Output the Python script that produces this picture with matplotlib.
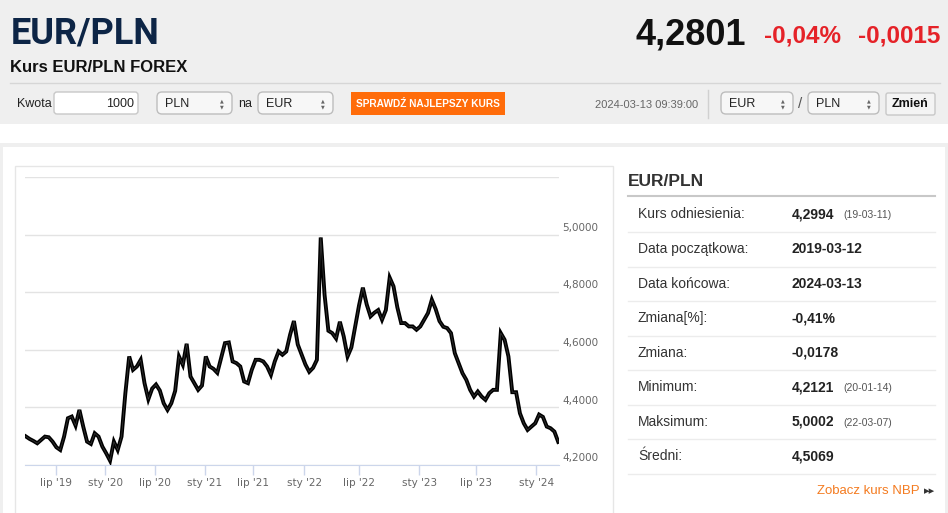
import matplotlib
matplotlib.use("Agg")
import matplotlib.pyplot as plt
import numpy as np
from matplotlib import font_manager as fm
from matplotlib.patches import Rectangle, FancyBboxPatch
from matplotlib.transforms import blended_transform_factory

# ---------------------- data ----------------------

# EUR/PLN close, evenly spaced along the (ordinal) time axis, 2019-03-12 .. 2024-03-13
close = [
    4.2994, 4.2905, 4.2835, 4.2754, 4.2870, 4.2986, 4.2963, 4.2812, 4.2615, 4.2522,
    4.2986, 4.3624, 4.3682, 4.3369, 4.3913, 4.3334, 4.2812, 4.2731, 4.3102, 4.2986,
    4.2638, 4.2406, 4.2150, 4.2812, 4.2522, 4.2986, 4.4493, 4.5769, 4.5305, 4.5421,
    4.5652, 4.4841, 4.4284, 4.4655, 4.4795, 4.4586, 4.4145, 4.3913, 4.4145, 4.4574,
    4.5769, 4.5479, 4.6209, 4.5073, 4.4841, 4.4609, 4.4760, 4.5769, 4.5421, 4.5339,
    4.5200, 4.5710, 4.6232, 4.6255, 4.5595, 4.5537, 4.5421, 4.4899, 4.4841, 4.5305,
    4.5652, 4.5652, 4.5595, 4.5421, 4.5131, 4.5595, 4.5942, 4.5826, 4.5942, 4.6522,
    4.7000, 4.6186, 4.5838, 4.5490, 4.5235, 4.5374, 4.5652, 4.9900, 4.7913, 4.6661,
    4.6580, 4.6395, 4.6974, 4.6464, 4.5769, 4.6082, 4.6812, 4.7542, 4.8157, 4.7577,
    4.7160, 4.7287, 4.7380, 4.7044, 4.7380, 4.8505, 4.8203, 4.7473, 4.6928, 4.6928,
    4.6812, 4.6812, 4.6696, 4.6812, 4.7044, 4.7276, 4.7739, 4.7415, 4.6997, 4.6800,
    4.6754, 4.6580, 4.5884, 4.5537, 4.5189, 4.4957, 4.4609, 4.4377, 4.4551, 4.4377,
    4.4261, 4.4493, 4.4609, 4.4609, 4.6580, 4.6348, 4.5769, 4.4528, 4.4528, 4.3797,
    4.3450, 4.3218, 4.3334, 4.3450, 4.3751, 4.3670, 4.3334, 4.3276, 4.3160, 4.2801,
]

# x tick labels and their place on the ordinal axis (in data-point units)
tick_labels = ["lip '19", "sty '20", "lip '20", "sty '21", "lip '21",
               "sty '22", "lip '22", "sty '23", "lip '23", "sty '24"]
tick_pos = [7.8, 20.8, 33.7, 46.8, 59.3, 72.7, 87.0, 102.7, 117.5, 133.3]

y_ticks = [4.2, 4.4, 4.6, 4.8, 5.0, 5.2]

# side table
row_labels = ["Kurs odniesienia:", "Data początkowa:", "Data końcowa:", "Zmiana[%]:",
              "Zmiana:", "Minimum:", "Maksimum:", "Średni:"]
row_values = ["4,2994", "2019-03-12", "2024-03-13", "-0,41%",
              "-0,0178", "4,2121", "5,0002", "4,5069"]
row_dates = ["(19-03-11)", "", "", "", "", "(20-01-14)", "(22-03-07)", ""]

# header quote
pair = "EUR/PLN"
last_price = "4,2801"
change_pct = "-0,04%"
change_abs = "-0,0015"
quote_time = "2024-03-13 09:39:00"

# ---------------------- fonts ----------------------

installed = {f.name for f in fm.fontManager.ttflist}
NARROW = "Liberation Sans Narrow" if "Liberation Sans Narrow" in installed else "Liberation Sans"
ARIAL = "Liberation Sans"
TITLE = "Roboto" if "Roboto" in installed else ARIAL

RED = "#e52228"
ORANGE = "#ff6c0a"

# ---------------------- page ----------------------

fig = plt.figure(figsize=(9.48, 5.13), dpi=100, facecolor="white")
page = fig.add_axes([0, 0, 1, 1], zorder=0)
page.set_xlim(0, 948)
page.set_ylim(513, 0)
page.axis("off")

# header band
page.add_patch(Rectangle((0, 0), 948, 124, facecolor="#efefef", edgecolor="none"))
# card frame
page.add_patch(Rectangle((0, 143), 948, 370, facecolor="#efefef", edgecolor="none"))
page.add_patch(Rectangle((3, 147), 942, 370, facecolor="white", edgecolor="none"))
page.add_patch(Rectangle((15, 166), 598, 360, facecolor="white", edgecolor="#e6e6e6", lw=1))

page.text(11, 43, pair, fontsize=26, family=TITLE, weight="bold",
          color="#0d2546", va="baseline")
page.text(10, 72, "Kurs EUR/PLN FOREX", fontsize=12, family=ARIAL, weight="bold",
          color="#111111", va="baseline")
page.text(636, 44, last_price, fontsize=26, family=ARIAL, weight="bold",
          color="#111111", va="baseline")
page.text(764, 42, change_pct, fontsize=17.5, family=ARIAL, weight="bold",
          color=RED, va="baseline")
page.text(940, 42, change_abs, fontsize=17.5, family=ARIAL, weight="bold",
          color=RED, va="baseline", ha="right")
page.plot([10, 940], [83, 83], color="#d6d6d6", lw=1)

# controls row
cy = 104
page.text(17, cy, "Kwota", fontsize=9, family=NARROW, color="#222222", va="center")
page.add_patch(FancyBboxPatch((54, 92), 84, 22, boxstyle="round,pad=0,rounding_size=3",
                              facecolor="white", edgecolor="#c8c8c8", lw=1))
page.text(134, cy, "1000", fontsize=9, family=NARROW, color="#222222",
          va="center", ha="right")


def select_box(x, w, label):
    page.add_patch(FancyBboxPatch((x, 92), w, 22, boxstyle="round,pad=0,rounding_size=5",
                                  facecolor="#f7f7f7", edgecolor="#bdbdbd", lw=1))
    page.text(x + 8, cy, label, fontsize=9, family=NARROW, color="#222222", va="center")
    page.text(x + w - 10, cy - 3, "▲", fontsize=3.5, color="#666666", ha="center", va="center")
    page.text(x + w - 10, cy + 3, "▼", fontsize=3.5, color="#666666", ha="center", va="center")


select_box(157, 75, "PLN")
page.text(238, cy, "na", fontsize=9, family=NARROW, color="#222222", va="center")
select_box(258, 75, "EUR")

page.add_patch(Rectangle((351, 92), 154, 23, facecolor=ORANGE, edgecolor="none"))
page.text(428, cy, "SPRAWDŹ NAJLEPSZY KURS", fontsize=7.3, family=NARROW, weight="bold",
          color="white", ha="center", va="center")

page.text(698, cy + 1, quote_time, fontsize=8, family=NARROW, color="#666666",
          ha="right", va="center")
page.plot([708, 708], [90, 118], color="#d0d0d0", lw=1)
select_box(721, 72, "EUR")
page.text(800, cy, "/", fontsize=11, family=NARROW, color="#555555", ha="center", va="center")
select_box(808, 71, "PLN")
page.add_patch(FancyBboxPatch((886, 93), 49, 22, boxstyle="round,pad=0,rounding_size=2",
                              facecolor="#f4f4f4", edgecolor="#c8c8c8", lw=1))
page.text(910.5, cy, "Zmień", fontsize=9, family=NARROW, weight="bold",
          color="#111111", ha="center", va="center")

# side table
page.text(628, 186, pair, fontsize=12.5, family=ARIAL, weight="bold",
          color="#333333", va="baseline")
page.plot([628, 935], [195.5, 195.5], color="#c8c8c8", lw=1.5)
for i, (lab, val, dt) in enumerate(zip(row_labels, row_values, row_dates)):
    ry = 214.5 + 34.55 * i
    page.text(638, ry, lab, fontsize=10, family=ARIAL, color="#333333", va="center")
    page.text(792, ry, val, fontsize=10, family=ARIAL, weight="bold",
              color="#222222", va="center")
    if dt:
        page.text(843, ry + 1, dt, fontsize=7.5, family=ARIAL, color="#555555", va="center")
    page.plot([628, 935], [ry + 17.5, ry + 17.5], color="#ececec", lw=1)

page.text(920, 491, "Zobacz kurs NBP", fontsize=9.5, family=ARIAL, color="#f47b20",
          ha="right", va="center")
page.text(924, 491, "▸▸", fontsize=8, family="DejaVu Sans", color="#333333", va="center")

# ---------------------- chart ----------------------

ax = fig.add_axes([25 / 948, (513 - 465) / 513, (559 - 25) / 948, (465 - 177) / 513], zorder=1)
ax.set_facecolor("none")
x = np.arange(len(close))
# thick dark stroke stands in for the dense OHLC candles of the original
ax.plot(x, close, color="black", lw=2.8, solid_joinstyle="miter", zorder=3)
ax.plot(x, close, color="#3a3a3a", lw=0.5, zorder=4)

ax.set_xlim(-0.2, len(close) - 0.8)
ax.set_ylim(y_ticks[0], y_ticks[-1])
ax.set_yticks(y_ticks)
ax.yaxis.grid(True, color="#e3e3e3", lw=1)
ax.set_axisbelow(True)
ax.tick_params(axis="y", length=0, labelleft=False)
ax.set_xticks(tick_pos, tick_labels)
ax.tick_params(axis="x", length=7, width=1, color="#ccd6eb", labelcolor="#666666",
               labelsize=7.5, pad=2)
for side in ("top", "left", "right"):
    ax.spines[side].set_visible(False)
ax.spines["bottom"].set_color("#ccd6eb")

trans = blended_transform_factory(ax.transAxes, ax.transData)
for v in y_ticks[:-1]:
    ax.text(1.006, v + 0.006, f"{v:.4f}".replace(".", ","), transform=trans,
            fontsize=7.5, color="#666666", va="bottom", ha="left", clip_on=False)

fig.savefig("out.png", dpi=100, facecolor="white")
